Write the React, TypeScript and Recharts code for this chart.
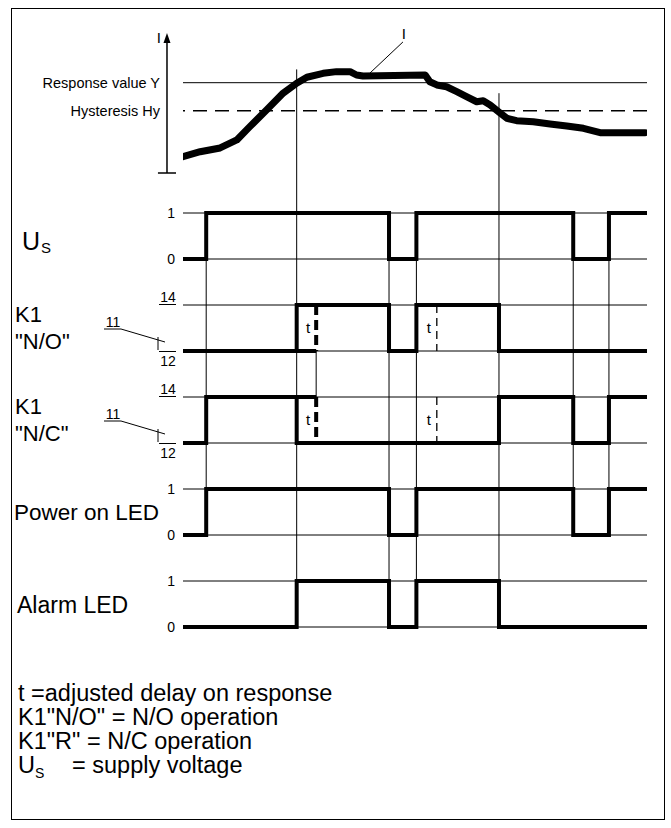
import React from "react";
import { ComposedChart, Line, XAxis, YAxis, ReferenceLine } from "recharts";

const W = 671;
const H = 828;
const FONT = '"Liberation Sans", Arial, Helvetica, sans-serif';

// plot frame (px)
const PLOT_LEFT = 183;
const PLOT_RIGHT = 647;
const PLOT_TOP = 20;
const PLOT_BOTTOM = 808;

// current axis: 0 at the bottom tick, 100 at the arrow tip
const CUR_ZERO_PX = 173;
const CUR_PX = 1.4;
// lanes: value 1 of the first lane, 46px per unit, 2 units per lane
const LANE_TOP_PX = 213;
const LANE_PX = 46;

const curDomain = [-(PLOT_BOTTOM - CUR_ZERO_PX) / CUR_PX, (CUR_ZERO_PX - PLOT_TOP) / CUR_PX];
const laneDomain = [1 - (PLOT_BOTTOM - LANE_TOP_PX) / LANE_PX, 1 + (LANE_TOP_PX - PLOT_TOP) / LANE_PX];
const curToLane = (c: number) => 1 - (CUR_ZERO_PX - CUR_PX * c - LANE_TOP_PX) / LANE_PX;

// measured current I (time 0..100)
const currentTime = [0, 3.7, 8, 11.6, 14.4, 18, 21.6, 24.5, 26.7, 30.2, 33.1, 36, 37.4, 38.8, 52.2, 53.2, 54.7, 56.8, 59, 61.1, 63.3, 64.7, 66.2, 68, 69.8, 71.9, 75.5, 79.1, 82.7, 86.3, 89.9, 93.5, 99.6];
const currentValue = [11.6, 15.2, 17.9, 23.6, 33.1, 45, 57.1, 64.1, 68.4, 71.2, 72.4, 72.4, 70, 69.3, 70, 65.2, 62.9, 61.6, 58.1, 54.5, 50.9, 51.6, 48.6, 43.8, 39.1, 37.4, 36.6, 35, 33.6, 31.9, 28.8, 28.8, 28.8];
const RESPONSE_Y = 64.5;
const HYSTERESIS = 44.5;

// switching signals (0/1, 12/14)
const usTime = [0, 5, 44.4, 50.3, 84.1, 91.8, 100];
const usLevel = [0, 1, 0, 1, 0, 1, 1];
const noTime = [0, 24.5, 44.4, 50.3, 68.1, 100];
const noLevel = [0, 1, 0, 1, 0, 0];
const ncTime = [0, 5, 24.5, 68.1, 84.1, 91.8, 100];
const ncLevel = [0, 1, 0, 1, 0, 1, 1];
const powerTime = [0, 5, 44.4, 50.3, 84.1, 91.8, 100];
const powerLevel = [0, 1, 0, 1, 0, 1, 1];
const alarmTime = [0, 24.5, 44.4, 50.3, 68.1, 100];
const alarmLevel = [0, 1, 0, 1, 0, 0];

const responseTime = 24.5;
const delayEnd = [28.7, 54.7];
const laneTickLabels = ["1", "0", "14", "12", "14", "12", "1", "0", "1", "0"];

const lanes = [
  { times: usTime, levels: usLevel, contact: false },
  { times: noTime, levels: noLevel, contact: true },
  { times: ncTime, levels: ncLevel, contact: true },
  { times: powerTime, levels: powerLevel, contact: false },
  { times: alarmTime, levels: alarmLevel, contact: false },
];
const laneTicks = laneTickLabels.map((_, i) => 1 - i);

const currentData = currentTime.map((t, i) => ({ t, v: currentValue[i] }));
const laneData = lanes.map((l, k) => l.times.map((t, i) => ({ t, v: l.levels[i] - 2 * k })));

// thin vertical guide lines [time, from, to] in lane units
const connectors: [number, number, number][] = [
  [usTime[1], 0, -5],
  [responseTime, curToLane(74), -7],
  [delayEnd[0], -2, -3],
  [usTime[2], 1, -8],
  [usTime[3], 1, -8],
  [noTime[4], curToLane(57), -7],
  [usTime[4], 1, -6],
  [usTime[5], 1, -6],
];

const txt = { fontFamily: FONT, fill: "#000" };

const LaneTick = (props: any) => {
  const { x, y, payload } = props;
  const v = Math.round(payload.value as number);
  const idx = 1 - v;
  const lane = Math.floor(idx / 2);
  const top = idx % 2 === 0;
  const label = laneTickLabels[idx];
  const titles: React.ReactNode[] = [];
  if (top) {
    if (lane === 0)
      titles.push(
        <text key="us" x={22} y={y + 37} fontSize={25} {...txt}>
          U<tspan fontSize={15} dx={1} dy={3}>S</tspan>
        </text>
      );
    if (lane === 1 || lane === 2) {
      titles.push(
        <text key="k1" x={15} y={y + 17} fontSize={22} {...txt}>K1</text>,
        <text key="k2" x={15} y={y + 44} fontSize={22} {...txt}>{lane === 1 ? '"N/O"' : '"N/C"'}</text>
      );
    }
    if (lane === 3) titles.push(<text key="p" x={14} y={y + 31} fontSize={22.5} {...txt}>Power on LED</text>);
    if (lane === 4) titles.push(<text key="a" x={17} y={y + 32} fontSize={23} {...txt}>Alarm LED</text>);
  }
  if (!lanes[lane].contact) {
    return (
      <g>
        {titles}
        <text x={x - 8} y={y + 5} textAnchor="end" fontSize={14} {...txt}>{label}</text>
      </g>
    );
  }
  if (top) {
    return (
      <g>
        {titles}
        <text x={x - 15} y={y - 3} textAnchor="middle" fontSize={14} {...txt}>{label}</text>
        <line x1={x - 24} x2={x - 7} y1={y - 0.5} y2={y - 0.5} stroke="#000" strokeWidth={1} />
      </g>
    );
  }
  return (
    <g>
      <line x1={x - 24} x2={x - 7} y1={y + 0.5} y2={y + 0.5} stroke="#000" strokeWidth={1} />
      <text x={x - 15} y={y + 15} textAnchor="middle" fontSize={14} {...txt}>{label}</text>
      <text x={x - 70} y={y - 24} textAnchor="middle" fontSize={14} {...txt}>11</text>
      <line x1={x - 79} x2={x - 62} y1={y - 22} y2={y - 22} stroke="#000" strokeWidth={1} />
      <line x1={x - 62} x2={x - 18} y1={y - 22} y2={y - 9} stroke="#000" strokeWidth={1} />
      <line x1={x - 25} x2={x - 25} y1={y - 14} y2={y - 1} stroke="#000" strokeWidth={1} />
    </g>
  );
};

const AxisArrow = (p: any) => {
  const { x1, y1, y2 } = p;
  const top = Math.min(y1, y2);
  const bottom = Math.max(y1, y2);
  return (
    <g>
      <line x1={x1} x2={x1} y1={bottom} y2={top + 8} stroke="#000" strokeWidth={1.5} />
      <polygon points={`${x1 - 3.5},${top + 10} ${x1 + 3.5},${top + 10} ${x1},${top}`} fill="#000" />
      <text x={x1 - 6} y={top + 10} textAnchor="end" fontSize={15} {...txt}>I</text>
    </g>
  );
};

const Leader = (p: any) => {
  const { x1, y1, x2, y2 } = p;
  return (
    <g>
      <line x1={x1} y1={y1} x2={x2} y2={y2} stroke="#000" strokeWidth={1} />
      <text x={x2 + 1} y={y2 - 3} textAnchor="middle" fontSize={15} {...txt}>I</text>
    </g>
  );
};

export default function App() {
  return (
    <div style={{ position: "absolute", left: 0, top: 0, width: W, height: H, background: "#fff", fontFamily: FONT }}>
      <div style={{ position: "absolute", left: 11, top: 8, width: 652, height: 810, border: "1.5px solid #000" }} />
      <div style={{ position: "absolute", left: 0, top: 0 }}>
        <ComposedChart
          width={W}
          height={H}
          margin={{ top: PLOT_TOP, bottom: H - PLOT_BOTTOM, left: PLOT_LEFT - 1, right: W - PLOT_RIGHT }}
        >
          <XAxis type="number" dataKey="t" domain={[0, 100]} hide allowDataOverflow />
          <YAxis
            yAxisId="lane"
            type="number"
            domain={laneDomain}
            ticks={laneTicks}
            interval={0}
            width={1}
            axisLine={false}
            tickLine={false}
            tickSize={0}
            tickMargin={0}
            tick={<LaneTick />}
            allowDataOverflow
          />
          <YAxis yAxisId="cur" orientation="right" type="number" domain={curDomain} hide allowDataOverflow />

          {/* current diagram */}
          <ReferenceLine
            yAxisId="cur"
            y={RESPONSE_Y}
            stroke="#000"
            strokeWidth={1}
            label={{ value: "Response value Y", position: "left", offset: 23, fontSize: 14.5, fill: "#000", fontFamily: FONT }}
          />
          <ReferenceLine
            yAxisId="cur"
            y={HYSTERESIS}
            stroke="#000"
            strokeWidth={1.4}
            strokeDasharray="14 8"
            label={{ value: "Hysteresis Hy", position: "left", offset: 23, fontSize: 14.5, fill: "#000", fontFamily: FONT }}
          />
          <ReferenceLine
            yAxisId="cur"
            segment={[{ x: -3.45, y: 0 }, { x: -3.45, y: 100 }]}
            ifOverflow="visible"
            shape={<AxisArrow />}
          />
          <ReferenceLine
            yAxisId="cur"
            segment={[{ x: -5.4, y: 0 }, { x: -1.5, y: 0 }]}
            ifOverflow="visible"
            stroke="#000"
            strokeWidth={1.5}
          />
          <ReferenceLine
            yAxisId="cur"
            segment={[{ x: 40.3, y: 71.4 }, { x: 47.4, y: 93.6 }]}
            ifOverflow="visible"
            shape={<Leader />}
          />

          {/* level lines */}
          {laneTicks.map((v) => (
            <ReferenceLine key={`lvl${v}`} yAxisId="lane" y={v} stroke="#000" strokeWidth={1} />
          ))}

          {/* guide lines */}
          {connectors.map(([t, a, b], i) => (
            <ReferenceLine
              key={`c${i}`}
              yAxisId="lane"
              segment={[{ x: t, y: a }, { x: t, y: b }]}
              ifOverflow="visible"
              stroke="#000"
              strokeWidth={1}
            />
          ))}

          {/* response delay t */}
          {[1, 2].map((k) => (
            <ReferenceLine
              key={`hold${k}`}
              yAxisId="lane"
              segment={[
                { x: responseTime, y: k === 1 ? -2 : -3 },
                { x: delayEnd[0], y: k === 1 ? -2 : -3 },
              ]}
              stroke="#000"
              strokeWidth={4}
            />
          ))}
          {[1, 2].map((k) =>
            delayEnd.map((t, j) => (
              <ReferenceLine
                key={`d${k}${j}`}
                yAxisId="lane"
                segment={[{ x: t, y: 1 - 2 * k }, { x: t, y: -2 * k }]}
                stroke="#000"
                strokeWidth={j === 0 ? 4 : 1.3}
                strokeDasharray={j === 0 ? "10 5" : "8 5"}
                label={{ value: "t", position: "left", offset: 6, fontSize: 15, fill: "#000", fontFamily: FONT }}
              />
            ))
          )}

          <Line
            yAxisId="cur"
            data={currentData}
            dataKey="v"
            type="linear"
            stroke="#000"
            strokeWidth={7}
            strokeLinejoin="round"
            strokeLinecap="round"
            dot={false}
            isAnimationActive={false}
          />
          {laneData.map((d, k) => (
            <Line
              key={`lane${k}`}
              yAxisId="lane"
              data={d}
              dataKey="v"
              type="stepAfter"
              stroke="#000"
              strokeWidth={4}
              strokeLinecap="square"
              dot={false}
              isAnimationActive={false}
            />
          ))}
        </ComposedChart>
      </div>
      <div style={{ position: "absolute", left: 18, top: 681, fontSize: 23.5, lineHeight: "24px", color: "#000" }}>
        <div>t =adjusted delay on response</div>
        <div>K1"N/O" = N/O operation</div>
        <div>K1"R" = N/C operation</div>
        <div>
          <span style={{ display: "inline-block", width: 54 }}>
            U<span style={{ fontSize: 14, verticalAlign: -5 }}>S</span>
          </span>
          = supply voltage
        </div>
      </div>
    </div>
  );
}
